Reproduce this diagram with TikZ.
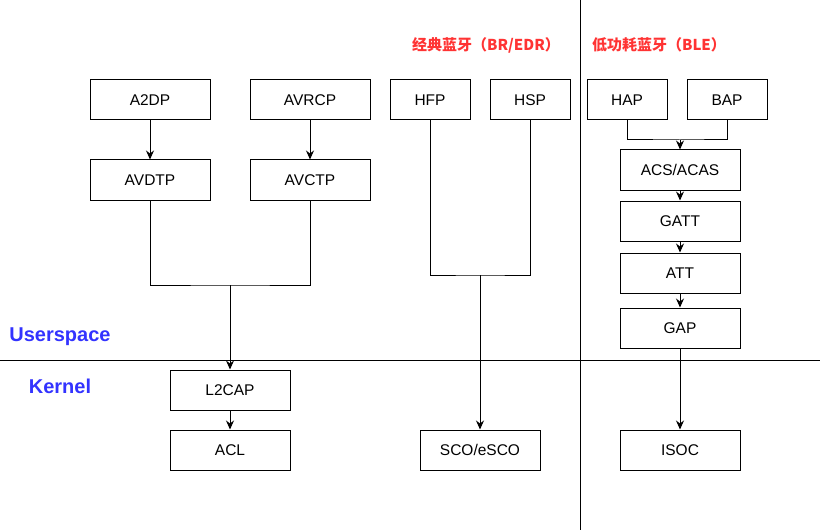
\documentclass[tikz,border=0pt]{standalone}
\usepackage{fontspec}
\setmainfont{Liberation Sans}
\newfontfamily\cjk{Noto Sans CJK SC}
\usepackage{tikz}
\usetikzlibrary{positioning,calc,arrows.meta}
\definecolor{btred}{HTML}{FF3333}
\definecolor{btblue}{HTML}{3333FF}
\tikzset{
  btbox/.style={rectangle, draw=black, line width=1pt, minimum width=120pt, minimum height=40pt, inner sep=0pt, font=\fontsize{15.5}{18}\selectfont},
  btsmall/.style={btbox, minimum width=80pt},
  btw/.style={draw=black, line width=1pt},
  btarr/.style={btw, -{Stealth[length=9pt, width=8pt, inset=3pt]}},
  bttitle/.style={text=btred, font=\cjk\bfseries\fontsize{15}{18}\selectfont},
  btlayer/.style={text=btblue, font=\bfseries\fontsize{20}{24}\selectfont}
}
\begin{document}
\begin{tikzpicture}[x=1pt, y=-1pt]
  \useasboundingbox (0,0) rectangle (822,532);
  % wires
  \coordinate (hl) at (0,360);
  \coordinate (hr) at (820,360);
  \coordinate (vt) at (580,0);
  \coordinate (vb) at (580,530);
  \draw[btw] (hl) -- (hr);
  \draw[btw] (vt) -- (vb);
  % boxes
  \node[btbox] (a2dp) at (150,100) {A2DP};
  \node[btbox] (avrcp) at (310,100) {AVRCP};
  \node[btbox] (avdtp) at (150,180) {AVDTP};
  \node[btbox] (avctp) at (310,180) {AVCTP};
  \node[btsmall] (hfp) at (430,100) {HFP};
  \node[btsmall] (hsp) at (530,100) {HSP};
  \node[btsmall] (hap) at (627,100) {HAP};
  \node[btsmall] (bap) at (727,100) {BAP};
  \node[btbox] (acs) at (680,170) {ACS/ACAS};
  \node[btbox] (gatt) at (680,221) {GATT};
  \node[btbox] (att) at (680,273) {ATT};
  \node[btbox] (gap) at (680,328) {GAP};
  \node[btbox] (l2cap) at (230,390) {L2CAP};
  \node[btbox] (acl) at (230,450) {ACL};
  \node[btbox] (sco) at (480,450) {SCO/eSCO};
  \node[btbox] (isoc) at (680,450) {ISOC};
  % joins
  \coordinate (jav) at (230,285);
  \coordinate (jhf) at (480,275);
  \coordinate (jle) at (680,140);
  % connectors
  \draw[btarr] (a2dp) -- (avdtp);
  \draw[btarr] (avrcp) -- (avctp);
  \draw[btw] (avdtp.south) |- (jav) -| (avctp.south);
  \draw[btarr] (jav) -- (l2cap);
  \draw[btarr] (l2cap) -- (acl);
  \draw[btw] (hfp.south) |- (jhf) -| (hsp.south);
  \draw[btarr] (jhf) -- (sco);
  \draw[btw] (hap.south) |- (jle) -| (bap.south);
  \draw[btarr] (jle) -- (acs);
  \draw[btarr] (acs) -- (gatt);
  \draw[btarr] (gatt) -- (att);
  \draw[btarr] (att) -- (gap);
  \draw[btarr] (gap) -- (isoc);
  % labels
  \node[bttitle] (classic) at (486,45) {经典蓝牙（BR/EDR）};
  \node[bttitle] (ble) at (659,45) {低功耗蓝牙（BLE）};
  \node[btlayer] (user) at (60,337) {Userspace};
  \node[btlayer] (kern) at (60,386) {Kernel};
\end{tikzpicture}
\end{document}
